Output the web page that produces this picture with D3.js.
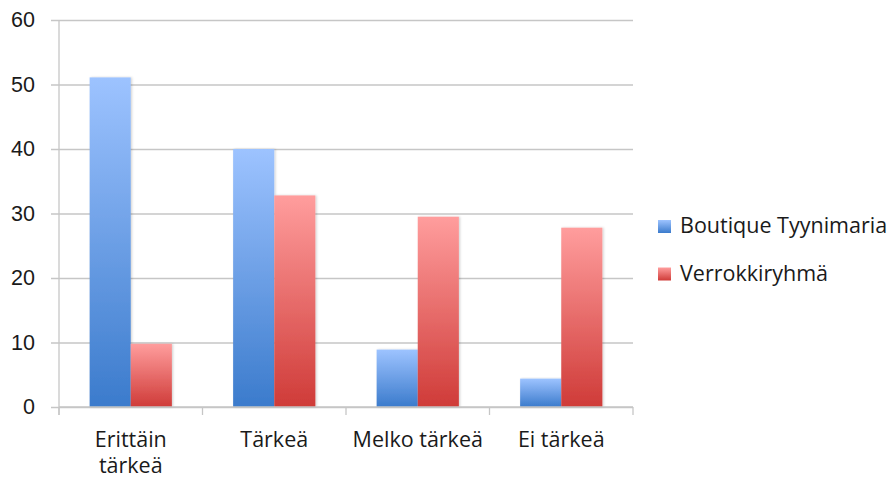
<!DOCTYPE html>
<html>
<head>
<meta charset="utf-8">
<script src="https://cdn.jsdelivr.net/npm/d3@7"></script>
<style>
  html, body { margin: 0; padding: 0; background: #fff; }
  svg { display: block; font-family: "Open Sans", "Noto Sans", sans-serif; }
</style>
</head>
<body>
<svg id="chart" width="891" height="479"></svg>
<script>
// Survey answers: share of respondents (%) per importance level
const categories = ["Erittäin tärkeä", "Tärkeä", "Melko tärkeä", "Ei tärkeä"];
const categoryLines = [["Erittäin", "tärkeä"], ["Tärkeä"], ["Melko tärkeä"], ["Ei tärkeä"]];
const seriesNames = ["Boutique Tyynimaria", "Verrokkiryhmä"];
const boutiqueValues = [51.1, 40.0, 8.9, 4.4];
const verrokkiValues = [9.8, 32.8, 29.5, 27.8];
const yTicks = [0, 10, 20, 30, 40, 50, 60];

const seriesValues = [boutiqueValues, verrokkiValues];
const svg = d3.select("#chart");
const margin = { left: 59, right: 258, top: 20, bottom: 72 };
const W = 891, H = 479;
const fontSize = 21.5;

const x = d3.scaleBand().domain(categories).range([margin.left, W - margin.right]).paddingInner(0).paddingOuter(0);
const xInner = d3.scaleBand().domain(seriesNames).range([0, x.bandwidth()]).paddingOuter(0.745).paddingInner(0);
const y = d3.scaleLinear().domain([0, 60]).range([H - margin.bottom, margin.top]);

// Vertical gradients for the two series
const defs = svg.append("defs");
const grads = [
  { id: "gBlue", top: "#9dc3ff", bottom: "#3b7bcc" },
  { id: "gRed", top: "#ff9d9d", bottom: "#cf3b38" }
];
grads.forEach(g => {
  const lg = defs.append("linearGradient").attr("id", g.id).attr("x1", 0).attr("x2", 0).attr("y1", 0).attr("y2", 1);
  lg.append("stop").attr("offset", "0%").attr("stop-color", g.top);
  lg.append("stop").attr("offset", "100%").attr("stop-color", g.bottom);
});
const f = defs.append("filter").attr("id", "shadow").attr("x", "-10%").attr("y", "-5%").attr("width", "130%").attr("height", "110%");
f.append("feDropShadow").attr("dx", 1.2).attr("dy", 0).attr("stdDeviation", 0.8).attr("flood-color", "#000").attr("flood-opacity", 0.18);

// Gridlines + y axis labels
const yAxis = d3.axisLeft(y).tickValues(yTicks).tickSize(0).tickPadding(0).tickFormat(d3.format("d"));
const gy = svg.append("g").attr("transform", `translate(${margin.left},0)`).call(yAxis);
gy.select(".domain").remove();
gy.selectAll(".tick line").attr("stroke", "#c6c6c6").attr("stroke-width", 1.3).attr("x1", -8).attr("x2", W - margin.right - margin.left);
gy.selectAll(".tick text").attr("fill", "#1a1a1a").attr("font-size", fontSize).attr("x", -24);

// Vertical axis line
svg.append("line").attr("x1", margin.left).attr("x2", margin.left).attr("y1", y(60)).attr("y2", y(0) + 8)
  .attr("stroke", "#c6c6c6").attr("stroke-width", 1.3);

// Bars
const groups = svg.append("g").selectAll("g").data(categories).join("g")
  .attr("transform", d => `translate(${x(d)},0)`);
groups.selectAll("rect").data((d, i) => seriesNames.map((s, j) => ({ s, j, v: seriesValues[j][i] })))
  .join("rect")
  .attr("x", d => xInner(d.s))
  .attr("width", xInner.bandwidth())
  .attr("y", d => y(d.v))
  .attr("height", d => y(0) - y(d.v))
  .attr("fill", d => d.j === 0 ? "url(#gBlue)" : "url(#gRed)")
  .attr("filter", "url(#shadow)");

// X axis baseline and category ticks
svg.append("line").attr("x1", margin.left).attr("x2", W - margin.right).attr("y1", y(0)).attr("y2", y(0))
  .attr("stroke", "#c6c6c6").attr("stroke-width", 1.3);
const boundaries = categories.map(c => x(c)).concat([x(categories[categories.length - 1]) + x.bandwidth()]);
svg.append("g").selectAll("line").data(boundaries).join("line")
  .attr("x1", d => d).attr("x2", d => d).attr("y1", y(0)).attr("y2", y(0) + 8)
  .attr("stroke", "#c6c6c6").attr("stroke-width", 1.3);

// Category labels
const labels = svg.append("g").selectAll("text").data(categories).join("text")
  .attr("x", d => x(d) + x.bandwidth() / 2)
  .attr("y", 447)
  .attr("text-anchor", "middle")
  .attr("font-size", fontSize)
  .attr("fill", "#1a1a1a");
labels.each(function (d, i) {
  d3.select(this).selectAll("tspan").data(categoryLines[i]).join("tspan")
    .attr("x", x(d) + x.bandwidth() / 2)
    .attr("dy", (t, k) => k === 0 ? 0 : 26)
    .text(t => t);
});

// Legend
const legend = svg.append("g").attr("transform", "translate(658,220)");
seriesNames.forEach((s, j) => {
  const g = legend.append("g").attr("transform", `translate(0,${j * 47.5})`);
  g.append("rect").attr("width", 13).attr("height", 13).attr("fill", j === 0 ? "url(#gBlue)" : "url(#gRed)");
  g.append("text").attr("x", 22).attr("y", 13).attr("font-size", fontSize).attr("fill", "#1a1a1a").text(s);
});
</script>
</body>
</html>
